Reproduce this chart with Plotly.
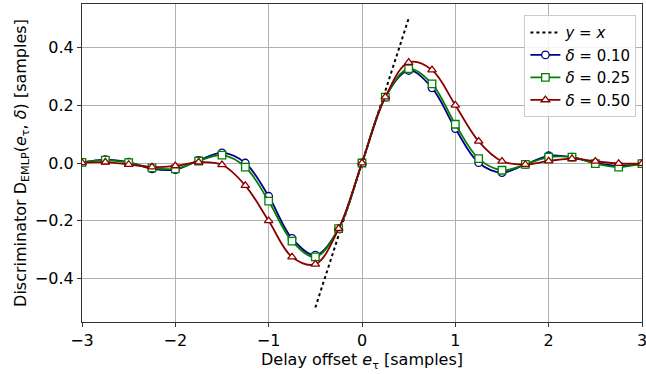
import plotly.graph_objects as go

x_vals = [-3.0, -2.75, -2.5, -2.25, -2.0, -1.75, -1.5, -1.25, -1.0, -0.75, -0.5, -0.25,
          0.0, 0.25, 0.5, 0.75, 1.0, 1.25, 1.5, 1.75, 2.0, 2.25, 2.5, 2.75, 3.0]

d010 = [0.002, 0.012, 0.003, -0.020, -0.023, 0.009, 0.035, 0.000, -0.115, -0.261, -0.319, -0.227,
        0.0, 0.228, 0.320, 0.260, 0.119, 0.001, -0.033, -0.005, 0.025, 0.020, 0.000, -0.010, -0.002]
d025 = [0.002, 0.010, 0.001, -0.017, -0.020, 0.007, 0.027, -0.014, -0.132, -0.270, -0.325, -0.227,
        0.0, 0.228, 0.326, 0.274, 0.134, 0.015, -0.025, -0.005, 0.020, 0.020, -0.002, -0.014, -0.002]
d050 = [0.001, 0.003, -0.005, -0.014, -0.010, 0.003, -0.006, -0.078, -0.200, -0.325, -0.350, -0.227,
        0.0, 0.228, 0.348, 0.322, 0.200, 0.075, 0.006, -0.005, 0.007, 0.015, 0.006, -0.002, -0.002]

ref_x = [-0.5, 0.5]
ref_y = [-0.5, 0.5]

font_family = "DejaVu Sans"
fs = 16

fig = go.Figure()
fig.add_trace(go.Scatter(x=ref_x, y=ref_y, mode="lines", name="<i>y</i> = <i>x</i>",
                         line=dict(color="black", width=2, dash="dot")))

series = [
    ("<i>δ</i> = 0.10", d010, "#00008B", "circle"),
    ("<i>δ</i> = 0.25", d025, "#007F00", "square"),
    ("<i>δ</i> = 0.50", d050, "#8B0000", "triangle-up"),
]
for name, ys, col, sym in series:
    fig.add_trace(go.Scatter(
        x=x_vals, y=ys, mode="lines+markers", name=name,
        line=dict(color=col, width=1.8, shape="spline", smoothing=1.0),
        marker=dict(symbol=sym, size=7.5, color="white", line=dict(color=col, width=1.3)),
    ))

axis_common = dict(
    showgrid=True, gridcolor="#b0b0b0", gridwidth=1,
    showline=True, linecolor="#333333", linewidth=1.2, mirror=True,
    ticks="outside", ticklen=4, tickcolor="#333333",
    zeroline=False, tickfont=dict(size=fs, color="black", family=font_family),
    ticklabeloverflow="allow", automargin=False,
)

fig.update_layout(
    width=646, height=374,
    margin=dict(l=82, r=4, t=4, b=52),
    paper_bgcolor="white", plot_bgcolor="white",
    font=dict(family=font_family, size=fs, color="black"),
    xaxis=dict(range=[-3, 3], tickvals=[-3, -2, -1, 0, 1, 2, 3],
               title=dict(text="Delay offset <i>e</i><sub>τ</sub> [samples]", standoff=2,
                          font=dict(size=fs)),
               **axis_common),
    yaxis=dict(range=[-0.55, 0.55], tickvals=[-0.4, -0.2, 0.0, 0.2, 0.4], tickformat=".1f",
               title=dict(text="Discriminator D<sub>EMLP</sub>(<i>e</i><sub>τ</sub>, <i>δ</i>) [samples]",
                          standoff=4, font=dict(size=fs)),
               **axis_common),
    legend=dict(x=0.99, y=0.965, xanchor="right", yanchor="top",
                bgcolor="rgba(255,255,255,0.85)", bordercolor="#cccccc", borderwidth=1,
                font=dict(size=15, family=font_family), tracegroupgap=0,
                itemwidth=30),
    showlegend=True,
)

fig.write_html("out.html")
